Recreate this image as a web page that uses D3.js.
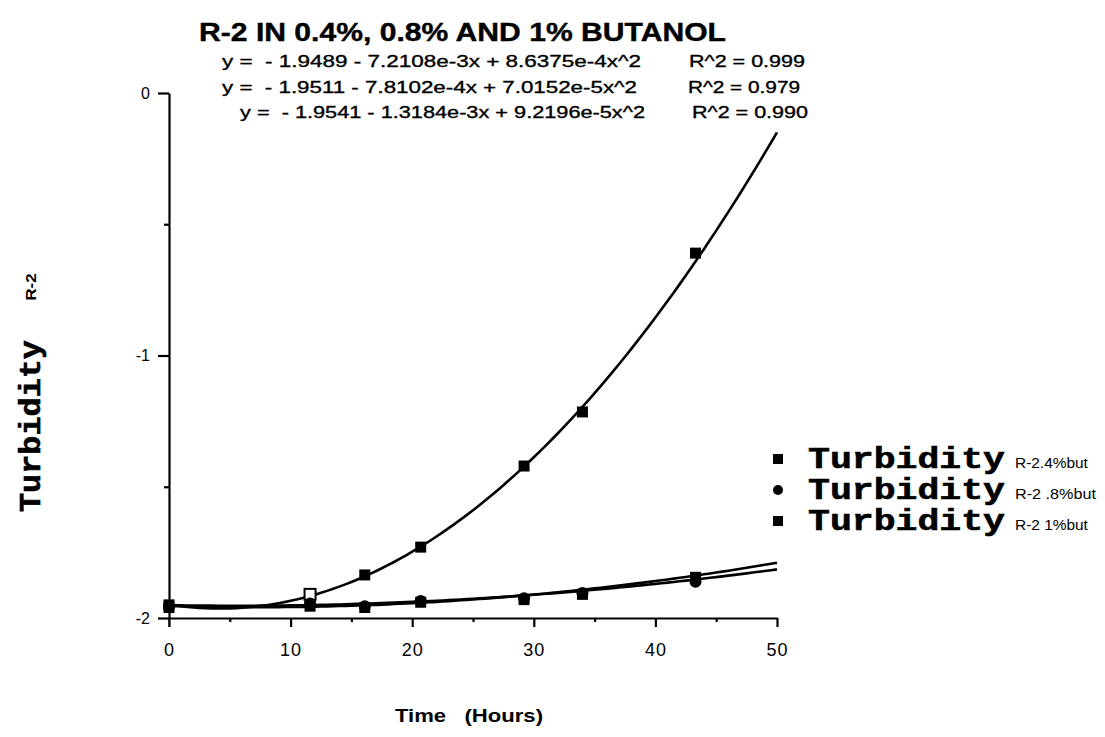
<!DOCTYPE html>
<html>
<head>
<meta charset="utf-8">
<script src="https://cdn.jsdelivr.net/npm/d3@7"></script>
<style>
  body { margin: 0; background: #fff; }
</style>
</head>
<body>
<svg id="chart" width="1105" height="737"></svg>
<script>
// sampling times (hours)
const times = [0, 11.6, 16.1, 20.7, 29.2, 34.0, 43.3];
// turbidity readings for each butanol level
const but04 = [-1.95, -1.91, -1.836, -1.73, -1.421, -1.215, -0.61];
const but08 = [-1.955, -1.945, -1.955, -1.935, -1.925, -1.905, -1.862];
const but1 = [-1.96, -1.955, -1.96, -1.94, -1.93, -1.91, -1.845];
// quadratic fit coefficients printed on the chart
const fit04 = [-1.9489, -7.2108e-3, 8.6375e-4];
const fit08 = [-1.9511, -7.8102e-4, 7.0152e-5];
const fit1 = [-1.9541, -1.3184e-3, 9.2196e-5];
const equations = [
    "y =  - 1.9489 - 7.2108e-3x + 8.6375e-4x^2",
    "y =  - 1.9511 - 7.8102e-4x + 7.0152e-5x^2",
    "y =  - 1.9541 - 1.3184e-3x + 9.2196e-5x^2"
];
const rSquared = ["R^2 = 0.999", "R^2 = 0.979", "R^2 = 0.990"];
const legendSuffix = ["R-2.4%but", "R-2 .8%but", "R-2 1%but"];
const xTicks = [0, 10, 20, 30, 40, 50];
const xMinorTicks = [5, 15, 25, 35, 45];
const yTicks = [0, -1, -2];
const yMinorTicks = [-0.5, -1.5];

const sans = "'Liberation Sans', Arial, Helvetica, sans-serif";
const mono = "'Liberation Mono', 'Courier New', monospace";

const svg = d3.select("#chart");

const x = d3.scaleLinear().domain([0, 50]).range([169, 777]);
const y = d3.scaleLinear().domain([-2, 0]).range([618, 93]);

// Title
svg.append("text")
    .attr("x", 199).attr("y", 41)
    .attr("textLength", 527).attr("lengthAdjust", "spacingAndGlyphs")
    .style("font-family", sans).style("font-weight", "bold").style("font-size", "25px")
    .style("stroke", "#000").style("stroke-width", 0.4)
    .text("R-2 IN 0.4%, 0.8% AND 1% BUTANOL");

// fit equations
const eqLeft = [222, 222, 240];
const eqWidth = [419, 415, 405];
const r2Left = [689, 688, 692];
const r2Width = [116, 112, 116];
equations.forEach((eq, i) => {
    svg.append("text")
        .attr("x", eqLeft[i]).attr("y", 67 + i * 25.5)
        .attr("textLength", eqWidth[i]).attr("lengthAdjust", "spacingAndGlyphs")
        .attr("xml:space", "preserve")
        .style("font-family", sans).style("font-size", "16.5px")
        .style("stroke", "#000").style("stroke-width", 0.35)
        .text(eq);
    svg.append("text")
        .attr("x", r2Left[i]).attr("y", 67 + i * 25.5)
        .attr("textLength", r2Width[i]).attr("lengthAdjust", "spacingAndGlyphs")
        .style("font-family", sans).style("font-size", "16.5px")
        .style("stroke", "#000").style("stroke-width", 0.35)
        .text(rSquared[i]);
});

// Y axis
const yAxis = svg.append("g")
    .attr("transform", "translate(169,0)")
    .call(d3.axisLeft(y).tickValues(yTicks).tickSize(11).tickSizeOuter(0).tickPadding(8).tickFormat(d => String(d)));
yAxis.selectAll("text").style("font-family", sans).style("font-size", "16px");
svg.append("g")
    .attr("transform", "translate(169,0)")
    .call(d3.axisLeft(y).tickValues(yMinorTicks).tickSize(5).tickFormat(""))
    .select(".domain").remove();
// axis continues slightly below the -2 level
svg.append("line")
    .attr("x1", 169).attr("x2", 169)
    .attr("y1", y(-2)).attr("y2", y(-2) + 9)
    .attr("stroke", "#000");

// X axis
const xAxis = svg.append("g")
    .attr("transform", `translate(0,${y(-2)})`)
    .call(d3.axisBottom(x).tickValues(xTicks).tickSize(9).tickSizeOuter(0).tickPadding(16));
xAxis.selectAll("text").style("font-family", sans).style("font-size", "18px").style("letter-spacing", "1px");
svg.append("g")
    .attr("transform", `translate(0,${y(-2)})`)
    .call(d3.axisBottom(x).tickValues(xMinorTicks).tickSize(4).tickFormat(""))
    .select(".domain").remove();
svg.selectAll(".domain, .tick line").attr("stroke-width", 2.2);

// X label
svg.append("text")
    .attr("x", 395).attr("y", 722)
    .attr("textLength", 148).attr("lengthAdjust", "spacingAndGlyphs")
    .attr("xml:space", "preserve")
    .style("font-family", sans).style("font-weight", "bold").style("font-size", "18px")
    .text("Time   (Hours)");

// Y label
svg.append("text")
    .attr("transform", "translate(40,426)rotate(-90)")
    .attr("text-anchor", "middle")
    .attr("textLength", 172).attr("lengthAdjust", "spacingAndGlyphs")
    .style("font-family", mono).style("font-weight", "bold").style("font-size", "29px")
    .style("stroke", "#000").style("stroke-width", 0.6)
    .text("Turbidity");
svg.append("text")
    .attr("transform", "translate(36,287)rotate(-90)")
    .attr("text-anchor", "middle")
    .attr("textLength", 27).attr("lengthAdjust", "spacingAndGlyphs")
    .style("font-family", sans).style("font-weight", "bold").style("font-size", "15px")
    .text("R-2");

// fitted curves
const fits = [fit04, fit08, fit1];
const line = d3.line()
    .x(d => x(d[0]))
    .y(d => y(d[1]));
fits.forEach(c => {
    const pts = d3.range(0, 50.01, 0.5).map(t => [t, c[0] + c[1] * t + c[2] * t * t]);
    svg.append("path")
        .datum(pts)
        .attr("d", line)
        .style("fill", "none")
        .style("stroke", "#000")
        .style("stroke-width", 2.6);
});

// markers
const series = [but04, but08, but1];
const shapes = ["square", "circle", "square"];
series.forEach((vals, s) => {
    const g = svg.append("g");
    vals.forEach((v, i) => {
        const px = x(times[i]), py = y(v);
        if (shapes[s] === "circle") {
            g.append("circle").attr("cx", px).attr("cy", py).attr("r", 6).style("fill", "#000");
        } else {
            const open = s === 0 && i === 1;
            g.append("rect")
                .attr("x", px - 5.5).attr("y", py - 5.5)
                .attr("width", 11).attr("height", 11)
                .style("fill", open ? "#fff" : "#000")
                .style("stroke", "#000").style("stroke-width", open ? 2 : 0);
        }
    });
});

// legend
const legendY = [459, 490, 521];
legendSuffix.forEach((label, i) => {
    const ly = legendY[i];
    if (shapes[i] === "circle") {
        svg.append("circle").attr("cx", 778).attr("cy", ly).attr("r", 5).style("fill", "#000");
    } else {
        svg.append("rect").attr("x", 773).attr("y", ly - 5).attr("width", 10).attr("height", 10).style("fill", "#000");
    }
    svg.append("text")
        .attr("x", 808).attr("y", ly + 9)
        .attr("textLength", 197).attr("lengthAdjust", "spacingAndGlyphs")
        .style("font-family", mono).style("font-weight", "bold").style("font-size", "30px")
        .style("stroke", "#000").style("stroke-width", 0.6)
        .text("Turbidity");
    svg.append("text")
        .attr("x", 1015).attr("y", ly + 9)
        .attr("textLength", label.length * 8.1).attr("lengthAdjust", "spacingAndGlyphs")
        .attr("xml:space", "preserve")
        .style("font-family", sans).style("font-size", "15px")
        .text(label);
});
</script>
</body>
</html>
